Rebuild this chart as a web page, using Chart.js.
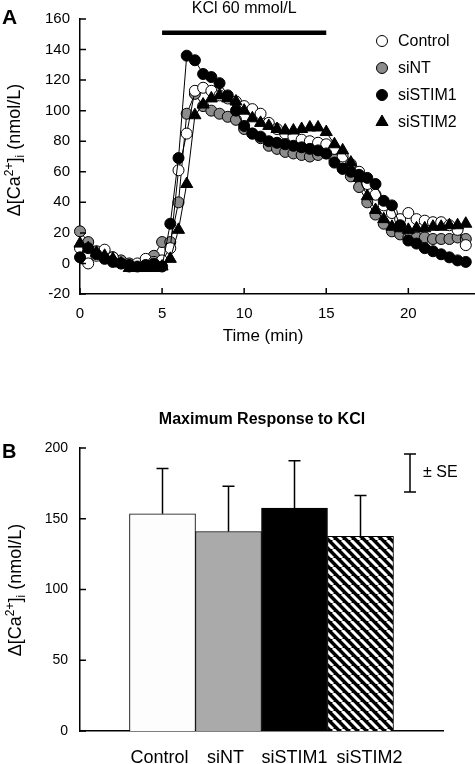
<!DOCTYPE html>
<html>
<head>
<meta charset="utf-8">
<script src="https://cdn.jsdelivr.net/npm/chart.js@4.4.1/dist/chart.umd.min.js"></script>
<style>
  html, body { margin: 0; padding: 0; background: #fff; }
  #wrapA { position: absolute; left: 0; top: 0; width: 475px; height: 360px; }
  #wrapB { position: absolute; left: 0; top: 360px; width: 475px; height: 404px; }
</style>
</head>
<body>
<div id="wrapA"><canvas id="chartA" width="475" height="360"></canvas></div>
<div id="wrapB"><canvas id="chartB" width="475" height="404"></canvas></div>
<script>
// Panel A: time course of [Ca2+]i during KCl stimulation
const timeMin = [0, 0.5, 1, 1.5, 2, 2.5, 3, 3.5, 4, 4.5, 5, 5.5, 6, 6.5, 7, 7.5, 8, 8.5, 9, 9.5,
  10, 10.5, 11, 11.5, 12, 12.5, 13, 13.5, 14, 14.5, 15, 15.5, 16, 16.5, 17, 17.5, 18, 18.5, 19, 19.5,
  20, 20.5, 21, 21.5, 22, 22.5, 23, 23.5];
const control = [10, 0, 5, 9, 4, 0, -2, 0, 3, 1, 2, 10, 61, 85, 113, 115, 113, 110, 108, 106,
  103, 101, 98, 92, 88, 85, 83, 81, 80, 79, 78, 75, 70, 65, 60, 52, 45, 38, 33, 29,
  33, 29, 28, 27, 27, 25, 22, 12];
const siNT = [21, 14, 8, 7, 4, 2, 0, -1, 0, 5, 14, 14, 40, 98, 111, 103, 100, 98, 96, 94,
  88, 85, 82, 77, 75, 73, 72, 71, 70, 71, 72, 68, 62, 57, 50, 40, 32, 26, 21, 19,
  17, 17, 17, 16, 16, 16, 17, 16];
const siSTIM1 = [4, 10, 6, 3, 1, 0, -1, -2, -1, 0, -2, 26, 69, 136, 133, 124, 122, 118, 110, 100,
  90, 85, 83, 80, 79, 78, 77, 76, 75, 74, 72, 66, 62, 60, 58, 56, 52, 41, 38, 25,
  15, 13, 10, 8, 6, 4, 2, 1];
const siSTIM2 = [13, 10, 7, 5, 3, 0, -3, -3, -3, -3, -2, 3, 22, 52, 97, 104, 108, 110, 108, 106,
  100, 95, 92, 90, 88, 87, 87, 88, 89, 89, 86, 78, 74, 66, 56, 44, 35, 29, 24, 23,
  22, 23, 23, 24, 24, 25, 25, 26];
const timeTicks = [0, 5, 10, 15, 20];
const calciumTicks = [-20, 0, 20, 40, 60, 80, 100, 120, 140, 160];
const kclPeriod = [5, 15];

// Panel B: maximum response to KCl
const groups = ['Control', 'siNT', 'siSTIM1', 'siSTIM2'];
const maxResponse = [153.5, 141, 157.5, 137.5];
const maxResponseSE = [32, 32, 33.5, 29];
const responseTicks = [0, 50, 100, 150, 200];

const FONT = '"Liberation Sans", Arial, sans-serif';
// small nudges of the group names, as in the original figure
const labelShift = [-3, -3, 0, 9];

function toPoints(values) {
    return values.map((v, i) => ({ x: timeMin[i], y: v }));
}

function drawCaTitle(ctx, cx, cy, size) {
    const small = Math.round(size * 0.68);
    const base = size * 0.36;
    const parts = [
        { t: '\u0394[Ca', f: size, dy: 0 },
        { t: '2+', f: small, dy: -size * 0.42 },
        { t: ']', f: size, dy: 0 },
        { t: 'i', f: small, dy: size * 0.2 },
        { t: ' (nmol/L)', f: size, dy: 0 }
    ];
    ctx.save();
    ctx.translate(cx, cy);
    ctx.rotate(-Math.PI / 2);
    let total = 0;
    parts.forEach(p => {
        ctx.font = `${p.f}px ${FONT}`;
        p.w = ctx.measureText(p.t).width;
        total += p.w;
    });
    ctx.fillStyle = '#000';
    ctx.textAlign = 'left';
    ctx.textBaseline = 'alphabetic';
    let x = -total / 2;
    parts.forEach(p => {
        ctx.font = `${p.f}px ${FONT}`;
        ctx.fillText(p.t, x, base + p.dy);
        x += p.w;
    });
    ctx.restore();
}

function drawMarker(ctx, style, fill, cx, cy) {
    ctx.beginPath();
    if (style === 'triangle') {
        const r = 7;
        ctx.moveTo(cx, cy - r);
        ctx.lineTo(cx + r * 0.866, cy + r * 0.5);
        ctx.lineTo(cx - r * 0.866, cy + r * 0.5);
        ctx.closePath();
    } else {
        ctx.arc(cx, cy, 5.5, 0, Math.PI * 2);
    }
    ctx.fillStyle = fill;
    ctx.fill();
    ctx.strokeStyle = '#000';
    ctx.lineWidth = 1;
    ctx.stroke();
}

const panelAExtras = {
    id: 'panelAExtras',
    afterDraw(chart) {
        const { ctx, scales: { x, y } } = chart;
        ctx.save();
        ctx.strokeStyle = '#000';
        ctx.lineWidth = 1.5;
        // tick marks point into the plot
        ctx.beginPath();
        timeTicks.forEach(v => {
            const px = x.getPixelForValue(v);
            ctx.moveTo(px, y.bottom);
            ctx.lineTo(px, y.bottom - 6);
        });
        calciumTicks.forEach(v => {
            const py = y.getPixelForValue(v);
            ctx.moveTo(x.left, py);
            ctx.lineTo(x.left + 6, py);
        });
        ctx.stroke();

        // KCl application bar
        const kx0 = x.getPixelForValue(kclPeriod[0]);
        const kx1 = x.getPixelForValue(kclPeriod[1]);
        const ky = y.getPixelForValue(151);
        ctx.lineWidth = 4.5;
        ctx.beginPath();
        ctx.moveTo(kx0, ky);
        ctx.lineTo(kx1, ky);
        ctx.stroke();
        ctx.fillStyle = '#000';
        ctx.font = `16px ${FONT}`;
        ctx.textAlign = 'center';
        ctx.textBaseline = 'middle';
        ctx.fillText('KCl 60 mmol/L', (kx0 + kx1) / 2, 9);

        // legend
        const rows = [41, 68, 95, 122];
        chart.data.datasets.forEach((ds, i) => {
            drawMarker(ctx, ds.pointStyle, ds.pointBackgroundColor, 382, rows[i]);
            ctx.fillStyle = '#000';
            ctx.font = `16px ${FONT}`;
            ctx.textAlign = 'left';
            ctx.textBaseline = 'middle';
            ctx.fillText(ds.label, 398, rows[i] + 1);
        });

        // panel letter and axis titles
        ctx.font = `bold 21px ${FONT}`;
        ctx.textAlign = 'left';
        ctx.textBaseline = 'middle';
        ctx.fillText('A', 2, 18);
        ctx.font = `17px ${FONT}`;
        ctx.textAlign = 'center';
        ctx.fillText('Time (min)', 263, 336);
        drawCaTitle(ctx, 14, 150, 18);
        ctx.restore();
    }
};

function makeHatch() {
    const s = 9;
    const p = document.createElement('canvas');
    p.width = s;
    p.height = s;
    const c = p.getContext('2d');
    c.fillStyle = '#000';
    c.fillRect(0, 0, s, s);
    c.strokeStyle = '#fff';
    c.lineWidth = 3;
    c.beginPath();
    [-s, 0, s].forEach(k => {
        c.moveTo(k, 0);
        c.lineTo(k + s, s);
    });
    c.stroke();
    return c.createPattern(p, 'repeat');
}

const panelBExtras = {
    id: 'panelBExtras',
    afterDatasetsDraw(chart) {
        const { ctx, scales: { x, y } } = chart;
        const meta = chart.getDatasetMeta(0);
        ctx.save();
        ctx.strokeStyle = '#000';
        ctx.lineWidth = 1.5;
        ctx.beginPath();
        meta.data.forEach((bar, i) => {
            const top = y.getPixelForValue(maxResponse[i] + maxResponseSE[i]);
            ctx.moveTo(bar.x, bar.y);
            ctx.lineTo(bar.x, top);
            ctx.moveTo(bar.x - 6, top);
            ctx.lineTo(bar.x + 6, top);
        });
        responseTicks.forEach(v => {
            const py = y.getPixelForValue(v);
            ctx.moveTo(x.left, py);
            ctx.lineTo(x.left + 6, py);
        });
        // +/- SE key
        ctx.moveTo(410, 94);
        ctx.lineTo(410, 132);
        ctx.moveTo(404, 94);
        ctx.lineTo(416, 94);
        ctx.moveTo(404, 132);
        ctx.lineTo(416, 132);
        ctx.stroke();

        ctx.fillStyle = '#000';
        ctx.font = `16px ${FONT}`;
        ctx.textAlign = 'left';
        ctx.textBaseline = 'middle';
        ctx.fillText('\u00B1 SE', 423, 113);

        // group names under the bars
        ctx.font = `18px ${FONT}`;
        ctx.textAlign = 'center';
        groups.forEach((g, i) => {
            ctx.fillText(g, x.getPixelForValue(i) + labelShift[i], y.bottom + 27);
        });

        ctx.font = `bold 16px ${FONT}`;
        ctx.fillText('Maximum Response to KCl', 262, 60);
        ctx.font = `bold 20px ${FONT}`;
        ctx.textAlign = 'left';
        ctx.fillText('B', 2, 92);
        drawCaTitle(ctx, 15, 230, 18);
        ctx.restore();
    }
};

const axisBorder = { display: true, color: '#000', width: 1.5 };

new Chart(document.getElementById('chartA').getContext('2d'), {
    type: 'scatter',
    data: {
        datasets: [
            { label: 'Control', data: toPoints(control), pointBackgroundColor: '#ffffff', pointStyle: 'circle', pointRadius: 5.5, order: 2 },
            { label: 'siNT', data: toPoints(siNT), pointBackgroundColor: '#8c8c8c', pointStyle: 'circle', pointRadius: 5.5, order: 3 },
            { label: 'siSTIM1', data: toPoints(siSTIM1), pointBackgroundColor: '#000000', pointStyle: 'circle', pointRadius: 5.5, order: 1 },
            { label: 'siSTIM2', data: toPoints(siSTIM2), pointBackgroundColor: '#000000', pointStyle: 'triangle', pointRadius: 7, order: 0 }
        ].map(ds => Object.assign(ds, {
            showLine: true,
            borderColor: '#000',
            borderWidth: 1,
            pointBorderColor: '#000',
            pointBorderWidth: 1,
            clip: false
        }))
    },
    options: {
        responsive: false,
        animation: false,
        layout: { autoPadding: false, padding: { top: 13, right: 1, left: 0, bottom: 0 } },
        plugins: { legend: { display: false }, tooltip: { enabled: false } },
        scales: {
            x: {
                type: 'linear',
                min: 0,
                max: 24,
                offset: false,
                afterBuildTicks: s => { s.ticks = timeTicks.map(v => ({ value: v })); },
                afterFit: s => { s.height = 66; },
                grid: { display: false, drawTicks: false },
                border: axisBorder,
                ticks: { color: '#000', font: { family: FONT, size: 15 }, padding: 11, maxRotation: 0 }
            },
            y: {
                min: -20,
                max: 160,
                afterBuildTicks: s => { s.ticks = calciumTicks.map(v => ({ value: v })); },
                afterFit: s => { s.width = 80; },
                grid: { display: false, drawTicks: false },
                border: axisBorder,
                ticks: { color: '#000', font: { family: FONT, size: 15 }, padding: 10 }
            }
        }
    },
    plugins: [panelAExtras]
});

const ctxB = document.getElementById('chartB').getContext('2d');
new Chart(ctxB, {
    type: 'bar',
    data: {
        datasets: [{
            data: groups.map((g, i) => ({ x: i, y: maxResponse[i] })),
            backgroundColor: ['#fdfdfd', '#aaaaaa', '#000000', makeHatch()],
            borderColor: '#000',
            borderWidth: 1,
            barPercentage: 1,
            categoryPercentage: 1
        }]
    },
    options: {
        responsive: false,
        animation: false,
        layout: { autoPadding: false, padding: { top: 88, right: 32, left: 0, bottom: 0 } },
        plugins: { legend: { display: false }, tooltip: { enabled: false } },
        scales: {
            x: {
                type: 'linear',
                min: -1.25,
                max: 4.25,
                offset: false,
                afterBuildTicks: s => { s.ticks = groups.map((g, i) => ({ value: i })); },
                afterFit: s => { s.height = 33; },
                grid: { display: false, drawTicks: false },
                border: axisBorder,
                ticks: { display: false }
            },
            y: {
                min: 0,
                max: 200,
                afterBuildTicks: s => { s.ticks = responseTicks.map(v => ({ value: v })); },
                afterFit: s => { s.width = 80; },
                grid: { display: false, drawTicks: false },
                border: axisBorder,
                ticks: { color: '#000', font: { family: FONT, size: 14 }, padding: 12 }
            }
        }
    },
    plugins: [panelBExtras]
});
</script>
</body>
</html>
